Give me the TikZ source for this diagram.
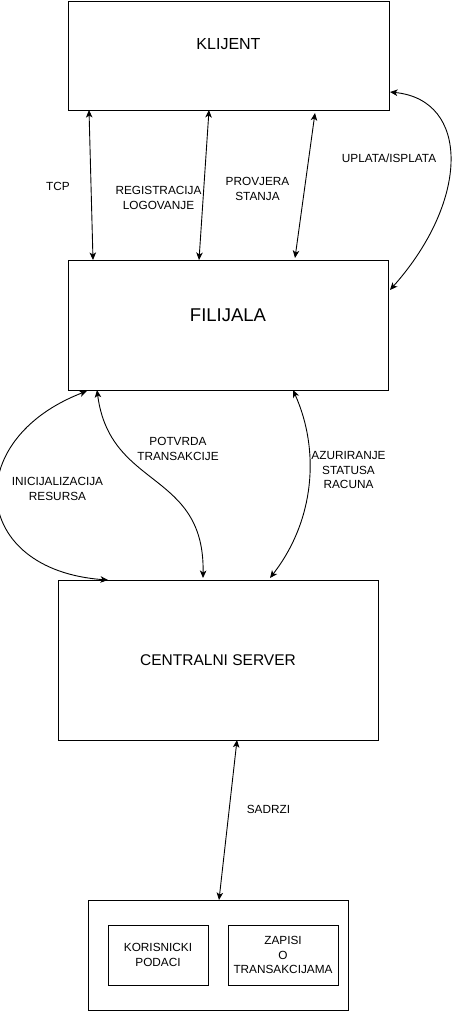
\documentclass[tikz,border=0pt]{standalone}
\usepackage{fontspec}
\setmainfont{Liberation Sans}
\usetikzlibrary{arrows.meta}

\begin{document}
\begin{tikzpicture}[x=1pt,y=-1pt,line width=0.9pt,
        box/.style={rectangle,draw,inner sep=0pt,outer sep=0pt},
        lbl/.style={align=center,font=\fontsize{11.8}{14.2}\selectfont},
        link/.style={arrows = {Stealth[length=7.5pt,width=6.5pt,inset=2pt]-Stealth[length=7.5pt,width=6.5pt,inset=2pt]}}]

            %\draw [help lines] (0,0) grid[step=50] (457,1011);
            \useasboundingbox (0,0) rectangle (457,1011);

            \path   (228.5,55.5) node (klijent) [box,minimum width=321pt,minimum height=109pt,
                        label={[font=\fontsize{16}{19}\selectfont,yshift=11pt]center:KLIJENT}] {}
                    (228,325) node (filijala) [box,minimum width=320pt,minimum height=130pt,
                        label={[font=\fontsize{18.5}{22}\selectfont,yshift=10pt]center:FILIJALA}] {}
                    (218,660) node (server) [box,minimum width=320pt,minimum height=160pt,
                        font=\fontsize{15.5}{18}\selectfont] {CENTRALNI SERVER}
                    (218,955) node (baza) [box,minimum width=260pt,minimum height=110pt] {}
                    (158,955) node (korisnici) [box,minimum width=100pt,minimum height=60pt,lbl] {KORISNICKI\\PODACI}
                    (283,955) node (zapisi) [box,minimum width=110pt,minimum height=60pt,lbl] {ZAPISI\\O\\TRANSAKCIJAMA};

            \path   (58,186) node (tcp) [lbl] {TCP}
                    (158.5,198) node (registracija) [lbl] {REGISTRACIJA\\LOGOVANJE}
                    (257.5,189) node (provjera) [lbl] {PROVJERA\\STANJA}
                    (389,158) node (uplata) [lbl] {UPLATA/ISPLATA}
                    (178,449) node (potvrda) [lbl] {POTVRDA\\TRANSAKCIJE}
                    (57.5,489) node (inicijalizacija) [lbl] {INICIJALIZACIJA\\RESURSA}
                    (348.5,470) node (azuriranje) [lbl] {AZURIRANJE\\STATUSA\\RACUNA}
                    (268.5,809) node (sadrzi) [lbl] {SADRZI};

            \draw[link] ([xshift=21pt]klijent.south west) -- ([xshift=25pt]filijala.north west);
            \draw[link] ([xshift=141pt]klijent.south west) -- ([xshift=131pt]filijala.north west);
            \draw[link] ([xshift=247pt,yshift=-3pt]klijent.south west) -- ([xshift=227pt,yshift=2pt]filijala.north west);
            \draw[link] ([xshift=1pt,yshift=18pt]klijent.south east) .. controls (470,100) and (470,200) .. ([xshift=2pt,yshift=-30pt]filijala.north east);

            \draw[link] ([xshift=19pt,yshift=-1pt]filijala.south west) .. controls (-40,440) and (-30,570) .. ([xshift=50pt]server.north west);
            \draw[link] ([xshift=29pt]filijala.south west) .. controls (110,490) and (205,470) .. ([xshift=145pt,yshift=2pt]server.north west);
            \draw[link] ([xshift=225pt]filijala.south west) .. controls (320,450) and (315,520) .. ([xshift=212pt,yshift=2pt]server.north west);

            \draw[link] ([xshift=179pt]server.south west) -- ([xshift=131pt]baza.north west);

        \end{tikzpicture}
\end{document}
